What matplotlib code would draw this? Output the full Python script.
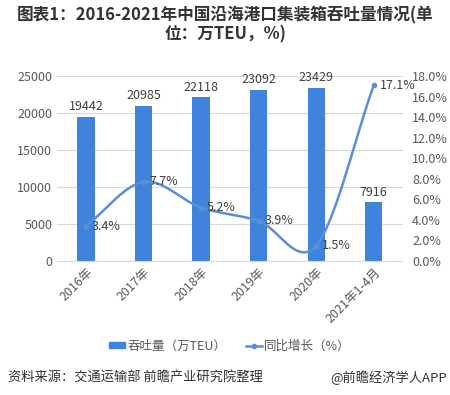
import numpy as np
import matplotlib
matplotlib.use("Agg")
import matplotlib.pyplot as plt

plt.rcParams['font.family'] = ['Noto Sans CJK SC', 'DejaVu Sans']

categories = ["2016年", "2017年", "2018年", "2019年", "2020年", "2021年1-4月"]
throughput = [19442, 20985, 22118, 23092, 23429, 7916]
growth = [3.4, 7.7, 5.2, 3.9, 1.5, 17.1]
left_ticks = [0, 5000, 10000, 15000, 20000, 25000]
right_ticks = [0, 2, 4, 6, 8, 10, 12, 14, 16, 18]

W, H = 450, 395
fig = plt.figure(figsize=(W/100, H/100), dpi=100)
ax = fig.add_axes([57.25/W, 1-261/H, (402.5-57.25)/W, (261-76)/H])
x = np.arange(len(categories))

bar_c = '#3f83dc'
line_c = '#5a8fd8'
txt_c = '#595959'

ax.bar(x, throughput, width=0.3, color=bar_c, zorder=2)
ax.set_ylim(0, 25000)
ax.set_xlim(-0.5, len(categories)-0.5)
ax.set_yticks(left_ticks)
ax.set_yticklabels([str(v) for v in left_ticks])
ax.grid(axis='y', color='#d9d9d9', linewidth=0.8, zorder=0)
ax.set_axisbelow(True)
for s in ax.spines.values():
    s.set_visible(False)
ax.spines['bottom'].set_visible(True)
ax.spines['bottom'].set_color('#d9d9d9')
ax.tick_params(axis='both', length=0, labelsize=9, colors=txt_c)
ax.set_xticks(x)
ax.set_xticklabels(categories, rotation=45, ha='right', rotation_mode='anchor')
for xi, v in zip(x, throughput):
    ax.text(xi, v + 500, str(v), ha='center', va='bottom', fontsize=9, color='#404040')

ax2 = ax.twinx()
ax2.set_ylim(0, 18)
ax2.set_yticks(right_ticks)
ax2.set_yticklabels([f"{v:.1f}%" for v in right_ticks])
for s in ax2.spines.values():
    s.set_visible(False)
ax2.tick_params(axis='y', length=0, labelsize=9, colors=txt_c, pad=7)

# smooth curve through data points (cubic Hermite rendering)
xs, ys = [], []
px = np.array(x, dtype=float)
py = np.array(growth, dtype=float)
n = len(px)
m = np.zeros(n)
for i in range(n):
    if i == 0:
        m[i] = (py[1]-py[0])
    elif i == n-1:
        m[i] = (py[-1]-py[-2])
    else:
        m[i] = (py[i+1]-py[i-1])/2
for i in range(n-1):
    t = np.linspace(0, 1, 30)
    h00 = 2*t**3-3*t**2+1; h10 = t**3-2*t**2+t
    h01 = -2*t**3+3*t**2; h11 = t**3-t**2
    xs.extend(px[i] + t)
    ys.extend(h00*py[i] + h10*m[i] + h01*py[i+1] + h11*m[i+1])
ax2.plot(xs, ys, color=line_c, linewidth=1.8, zorder=3)
ax2.plot(px, py, 'o', color=line_c, markersize=3, zorder=4)
for xi, v in zip(px, py):
    ax2.text(xi + 0.1, v, f"{v:.1f}%", ha='left', va='center', fontsize=9, color='#404040')

# legend
from matplotlib.patches import Patch
from matplotlib.lines import Line2D
handles = [Patch(color=bar_c, label='吞吐量（万TEU）'),
           Line2D([0], [0], color=line_c, marker='o', markersize=3, linewidth=1.8, label='同比增长（%）')]
fig.legend(handles=handles, loc='center', bbox_to_anchor=(230/W, 1-346/H), ncol=2,
           frameon=False, fontsize=9, labelcolor=txt_c, handlelength=1.25,
           handleheight=0.4, columnspacing=1.6, handletextpad=0.2)

fig.text(0.5, 1-25/H, "图表1：2016-2021年中国沿海港口集装箱吞吐量情况(单\n位：万TEU，%)",
         ha='center', va='center', fontsize=12, fontweight='bold', color='#333333', linespacing=1.05)
fig.text(8/W, 1-378/H, "资料来源：交通运输部 前瞻产业研究院整理", ha='left', va='center',
         fontsize=9.5, color='#333333')
fig.text(447/W, 1-378/H, "@前瞻经济学人APP", ha='right', va='center',
         fontsize=9.5, color='#333333')

fig.savefig("out.png", dpi=100)
